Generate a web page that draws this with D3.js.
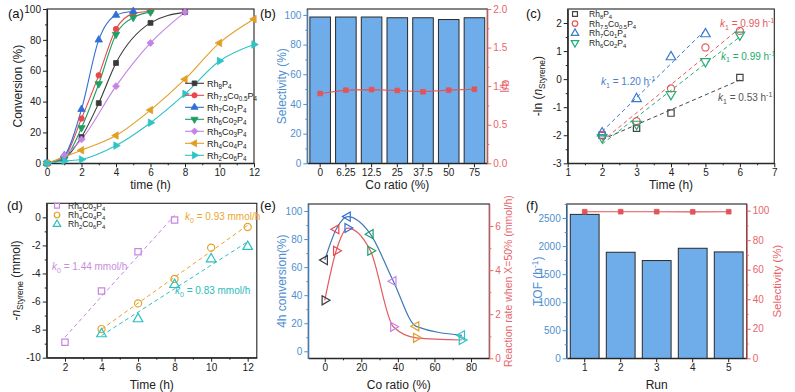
<!DOCTYPE html>
<html><head><meta charset="utf-8">
<script src="https://cdn.jsdelivr.net/npm/d3@7"></script>
<style>body{margin:0;background:#fff}svg{display:block}text{font-family:"Liberation Sans",Arial,sans-serif}</style>
</head><body><svg id="c" width="795" height="392"></svg>
<script>
// ---------- DATA ----------
// (a) conversion vs time
const legendA = ["Rh_{8}P_{4}","Rh_{7.5}Co_{0.5}P_{4}","Rh_{7}Co_{1}P_{4}","Rh_{6}Co_{2}P_{4}","Rh_{5}Co_{3}P_{4}","Rh_{4}Co_{4}P_{4}","Rh_{2}Co_{6}P_{4}"];
const convRh8P4   = [[0,0],[1,3],[2,17],[3,39],[4,65],[6,91],[8,98]];
const convRh75Co05 = [[0,0],[1,4],[2,29],[3,57],[4,87],[5,97],[6,98.5]];
const convRh7Co1  = [[0,0],[1,5],[2,35],[3,80],[4,96],[5,98.5]];
const convRh6Co2  = [[0,0],[1,3],[2,23],[3,51.5],[4,83.5],[5,94.5],[6,98]];
const convRh5Co3  = [[0,0],[1,5],[2,15.5],[4,50],[6,78],[8,98]];
const convRh4Co4  = [[0,0],[2,8.5],[4,18],[6,34.5],[8,54.5],[10,78],[12,93.5]];
const convRh2Co6  = [[0,0],[1,1.5],[2,2.5],[4,11.5],[6,26.3],[8,45],[10,66.3],[12,77]];
const xTicksA = [0,2,4,6,8,10,12];
const yTicksA = [0,20,40,60,80,100];
// (b) selectivity & l/b
const coRatioCats = ["0","6.25","12.5","25","37.5","50","75"];
const selectivityB = [98.6,98.6,98.6,98.1,98.1,96.9,98.1];
const lbRatio = [0.905,0.948,0.955,0.944,0.927,0.948,0.96];
const yTicksBL = [0,20,40,60,80,100];
const yTicksBR = [0,0.5,1,1.5,2];
// (c) -ln(n) vs time
const legendC = ["Rh_{8}P_{4}","Rh_{7.5}Co_{0.5}P_{4}","Rh_{7}Co_{1}P_{4}","Rh_{6}Co_{2}P_{4}"];
const lnRh8P4   = [[2,-2.0],[3,-1.75],[4,-1.21],[6,0.06]];
const lnRh75Co05 = [[2,-2.0],[3,-1.5],[4,-0.33],[5,1.13],[6,1.72]];
const lnRh7Co1  = [[2,-1.92],[3,-0.7],[4,0.79],[5,1.61]];
const lnRh6Co2  = [[2,-2.08],[3,-1.6],[4,-0.54],[5,0.63],[6,1.58]];
const kLabelsC = ["*k*_{1} = 0.53 h^{-1}","*k*_{1} = 0.99 h^{-1}","*k*_{1} = 1.20 h^{-1}","*k*_{1} = 0.99 h^{-1}"];
const xTicksC = [1,2,3,4,5,6,7];
const yTicksC = [-3,-2,-1,0,1,2];
// (d) -n vs time
const legendD = ["Rh_{5}Co_{3}P_{4}","Rh_{4}Co_{4}P_{4}","Rh_{2}Co_{6}P_{4}"];
const nRh5Co3 = [[2,-8.9],[4,-5.25],[6,-2.45],[8,-0.19]];
const nRh4Co4 = [[4,-7.96],[6,-6.13],[8,-4.39],[10,-2.16],[12,-0.69]];
const nRh2Co6 = [[4,-8.31],[6,-7.24],[8,-4.8],[10,-2.97],[12,-2.09]];
const kLabelsD = ["*k*_{0} = 1.44 mmol/h","*k*_{0} = 0.93 mmol/h","*k*_{0} = 0.83 mmol/h"];
const xTicksD = [2,4,6,8,10,12];
const yTicksD = [-10,-8,-6,-4,-2,0];
// (e) 4h conversion & rate vs Co ratio
const coRatioE = [0,6.25,12.5,25,37.5,50,75];
const conv4h = [65,87,96,83.5,50,17.8,11.4];
const rateX50 = [2.63,4.88,5.91,4.88,1.43,0.93,0.83];
const xTicksE = [0,20,40,60,80];
const yTicksEL = [0,20,40,60,80,100];
const yTicksER = [0,2,4,6];
// (f) recycling
const runs = ["1","2","3","4","5"];
const tofF = [2565,1890,1742,1961,1896];
const selF = [99.3,99.3,99.3,99.2,99.3];
const yTicksFL = [0,500,1000,1500,2000,2500];
const yTicksFR = [0,20,40,60,80,100];

// ---------- STYLE ----------
const FONT = '"Liberation Sans",Arial,sans-serif';
const BLUE_AX = "#4f8fd0", RED_AX = "#e8646c";
const COLS = {rh8:"#3a3a3a", r75:"#e8474c", r7:"#2f6fd6", r6:"#1f9e63", r5:"#c683e6", r4:"#e0a025", r2:"#2ec3c6"};
const svg = d3.select("#c");

function rich(sel, s, fs){
  const re=/_\{([^}]*)\}|\^\{([^}]*)\}|\*([^*]*)\*|([^_^*]+)/g; let m, cur=0;
  while((m=re.exec(s))){
    let t, shift=0, small=false, ital=false;
    if(m[1]!==undefined){t=m[1]; shift=0.25*fs; small=true;}
    else if(m[2]!==undefined){t=m[2]; shift=-0.36*fs; small=true;}
    else if(m[3]!==undefined){t=m[3]; ital=true;}
    else t=m[4];
    const ts=sel.append("tspan").text(t).attr("dy",(shift-cur).toFixed(2)); cur=shift;
    if(small) ts.attr("font-size",(fs*0.7).toFixed(1));
    if(ital) ts.attr("font-style","italic");
  }
  return sel;
}
function txt(x,y,s,fs,color,anchor,rot){
  const t=svg.append("text").attr("x",x).attr("y",y).attr("font-size",fs).attr("fill",color||"#222")
    .attr("text-anchor",anchor||"start").attr("font-family",FONT);
  if(rot) t.attr("transform",`rotate(${rot},${x},${y})`);
  rich(t,s,fs); return t;
}
function styleAx(g,color){
  g.attr("font-family",FONT).attr("font-size",10);
  g.select(".domain").attr("stroke",color).attr("stroke-width",1.1);
  g.selectAll(".tick line").attr("stroke",color);
  g.selectAll(".tick text").attr("fill",color);
}
function axisY(scale,xpos,side,ticks,minor,fmt,color){
  const A = side==="left"?d3.axisLeft:d3.axisRight;
  if(minor){
    const gm=svg.append("g").attr("transform",`translate(${xpos},0)`).call(A(scale).tickValues(minor).tickSize(2).tickSizeOuter(0).tickFormat(""));
    gm.select(".domain").remove(); gm.selectAll("line").attr("stroke",color);
  }
  const g=svg.append("g").attr("transform",`translate(${xpos},0)`)
    .call(A(scale).tickValues(ticks).tickSize(4).tickSizeOuter(0).tickPadding(2).tickFormat(fmt||(d=>String(d))));
  styleAx(g,color);
}
function axisX(scale,ypos,ticks,minor,fmt,color){
  if(minor){
    const gm=svg.append("g").attr("transform",`translate(0,${ypos})`).call(d3.axisBottom(scale).tickValues(minor).tickSize(2).tickSizeOuter(0).tickFormat(""));
    gm.select(".domain").remove(); gm.selectAll("line").attr("stroke",color);
  }
  const A=d3.axisBottom(scale).tickSize(4).tickSizeOuter(0).tickPadding(2);
  if(ticks) A.tickValues(ticks);
  A.tickFormat(fmt||(d=>String(d)));
  const g=svg.append("g").attr("transform",`translate(0,${ypos})`).call(A);
  styleAx(g,color);
}
function frame(p){
  svg.append("rect").attr("x",p.l).attr("y",p.t).attr("width",p.r-p.l).attr("height",p.b-p.t)
    .attr("fill","none").attr("stroke","#222").attr("stroke-width",1.1);
}
const SYM={square:[d3.symbolSquare,0],circle:[d3.symbolCircle,0],triUp:[d3.symbolTriangle,0],triDown:[d3.symbolTriangle,180],
  triLeft:[d3.symbolTriangle,-90],triRight:[d3.symbolTriangle,90],diamond:[d3.symbolSquare,45]};
function marker(g,shape,x,y,size,color,filled){
  const [t,r]=SYM[shape];
  g.append("path").attr("d",d3.symbol().type(t).size(size)())
    .attr("transform",`translate(${x},${y}) rotate(${r})`)
    .attr("fill",filled?color:"none").attr("stroke",color).attr("stroke-width",filled?0.8:1.2);
}
function fit(pts){
  const mx=d3.mean(pts,d=>d[0]), my=d3.mean(pts,d=>d[1]);
  const sxy=d3.sum(pts,d=>(d[0]-mx)*(d[1]-my)), sxx=d3.sum(pts,d=>(d[0]-mx)**2);
  const k=sxy/sxx; return [k,my-k*mx];
}
function minorRange(a,b,step){const r=[];for(let v=a;v<=b+1e-9;v+=step)r.push(+v.toFixed(4));return r;}

// ---------- PANEL GEOMETRY ----------
const P={a:{l:47,r:254,t:9,b:163.3},b:{l:307.3,r:487.3,t:9,b:163.3},c:{l:567.7,r:774.3,t:9,b:163.3},
  d:{l:46.7,r:256.8,t:203.3,b:357.7},e:{l:308.3,r:489.3,t:204,b:358.3},f:{l:566.7,r:746.7,t:204,b:358.3}};
const XT1=189, XT2=388.5;

// ===== (a) =====
{
  const p=P.a, x=d3.scaleLinear().domain([0,12]).range([p.l,p.r]), y=d3.scaleLinear().domain([0,100]).range([p.b,p.t]);
  frame(p);
  axisX(x,p.b,xTicksA,minorRange(1,11,2),null,"#222");
  axisY(y,p.l,"left",yTicksA,minorRange(10,90,20),null,"#222");
  const series=[[convRh8P4,COLS.rh8,"square"],[convRh75Co05,COLS.r75,"circle"],[convRh7Co1,COLS.r7,"triUp"],
    [convRh6Co2,COLS.r6,"triDown"],[convRh5Co3,COLS.r5,"diamond"],[convRh4Co4,COLS.r4,"triLeft"],[convRh2Co6,COLS.r2,"triRight"]];
  const line=d3.line().x(d=>x(d[0])).y(d=>y(d[1])).curve(d3.curveMonotoneX);
  const g=svg.append("g");
  series.forEach(([pts,c])=>g.append("path").attr("d",line(pts)).attr("fill","none").attr("stroke",c).attr("stroke-width",1.1));
  series.forEach(([pts,c,s])=>pts.forEach(d=>marker(g,s,x(d[0]),y(d[1]),24,c,true)));
  series.forEach(([pts,c,s],i)=>{
    const yy=83.3+i*12;
    g.append("line").attr("x1",185).attr("x2",204).attr("y1",yy).attr("y2",yy).attr("stroke",c).attr("stroke-width",1.1);
    marker(g,s,194.5,yy,22,c,true);
    txt(207,yy+3.2,legendA[i],9,"#222");
  });
  txt(8,18,"(a)",13,"#111");
  txt(22,(p.t+p.b)/2,"Conversion (%)",12,"#222","middle",-90);
  txt((p.l+p.r)/2,XT1,"time (h)",12,"#222","middle");
}
// ===== (b) =====
{
  const p=P.b, x=d3.scaleBand().domain(coRatioCats).range([p.l,p.r]).paddingInner(0.2).paddingOuter(0.1);
  const yl=d3.scaleLinear().domain([0,104]).range([p.b,p.t]), yr=d3.scaleLinear().domain([0,2]).range([p.b,p.t]);
  frame(p);
  const g=svg.append("g");
  g.selectAll("rect.bar").data(selectivityB).join("rect").attr("x",(d,i)=>x(coRatioCats[i])).attr("width",x.bandwidth())
    .attr("y",d=>yl(d)).attr("height",d=>p.b-yl(d)).attr("fill","#6fadea").attr("stroke","#2a2a2a").attr("stroke-width",1);
  const cx=i=>x(coRatioCats[i])+x.bandwidth()/2;
  g.append("path").attr("d",d3.line().x((d,i)=>cx(i)).y(d=>yr(d))(lbRatio)).attr("fill","none").attr("stroke","#e2545a").attr("stroke-width",1.1);
  lbRatio.forEach((d,i)=>marker(g,"square",cx(i),yr(d),22,"#e2545a",true));
  axisX(x,p.b,null,null,null,"#222");
  axisY(yl,p.l,"left",yTicksBL,minorRange(10,90,20),null,BLUE_AX);
  axisY(yr,p.r,"right",yTicksBR,minorRange(0.25,1.75,0.5),d3.format(".1f"),RED_AX);
  txt(260,18,"(b)",13,"#111");
  txt(286,(p.t+p.b)/2,"Selectivity (%)",12,BLUE_AX,"middle",-90);
  txt(509,(p.t+p.b)/2,"l/b",12,RED_AX,"middle",-90);
  txt((p.l+p.r)/2,XT1,"Co ratio (%)",12,"#222","middle");
}
// ===== (c) =====
{
  const p=P.c, x=d3.scaleLinear().domain([1,7]).range([p.l,p.r]), y=d3.scaleLinear().domain([-3,2.5]).range([p.b,p.t]);
  frame(p);
  axisX(x,p.b,xTicksC,minorRange(1.5,6.5,1),null,"#222");
  axisY(y,p.l,"left",yTicksC,minorRange(-2.5,1.5,1),null,"#222");
  const cols=["#444","#e45a5e","#3a7bd0","#21ad78"], shapes=["square","circle","triUp","triDown"];
  const series=[lnRh8P4,lnRh75Co05,lnRh7Co1,lnRh6Co2];
  const g=svg.append("g");
  series.forEach((pts,i)=>{
    const [k,b]=fit(pts), x0=pts[0][0], x1=pts[pts.length-1][0];
    g.append("line").attr("x1",x(x0)).attr("x2",x(x1)).attr("y1",y(k*x0+b)).attr("y2",y(k*x1+b))
      .attr("stroke",cols[i]).attr("stroke-width",1).attr("stroke-dasharray","4,3");
  });
  series.forEach((pts,i)=>pts.forEach(d=>marker(g,shapes[i],x(d[0]),y(d[1]),40,cols[i],false)));
  legendC.forEach((s,i)=>{const yy=14+i*9.6; marker(g,shapes[i],575,yy,24,cols[i],false); txt(589,yy+3,s,8.5,"#222");});
  const kcol=["#555","#e45a5e","#4a7fc8","#22aa70"], kpos=[[718,101],[720,27],[601,85],[721,59.5]];
  kLabelsC.forEach((s,i)=>txt(kpos[i][0],kpos[i][1],s,10,kcol[i]));
  txt(526,18,"(c)",13,"#111");
  txt(542,(p.t+p.b)/2,"-ln (*n*_{Styrene})",12,"#222","middle",-90);
  txt((p.l+p.r)/2,XT1,"Time (h)",12,"#222","middle");
}
// ===== (d) =====
{
  const p=P.d, x=d3.scaleLinear().domain([1,12.5]).range([p.l,p.r]), y=d3.scaleLinear().domain([-10,1]).range([p.b,p.t]);
  frame(p);
  axisX(x,p.b,xTicksD,minorRange(3,11,2),null,"#222");
  axisY(y,p.l,"left",yTicksD,minorRange(-9,-1,2),null,"#222");
  const cols=["#c685e2","#e3a42a","#2dbfc0"], shapes=["square","circle","triUp"];
  const series=[nRh5Co3,nRh4Co4,nRh2Co6];
  const g=svg.append("g");
  series.forEach((pts,i)=>{
    const [k,b]=fit(pts), x0=pts[0][0], x1=pts[pts.length-1][0];
    g.append("line").attr("x1",x(x0)).attr("x2",x(x1)).attr("y1",y(k*x0+b)).attr("y2",y(k*x1+b))
      .attr("stroke",cols[i]).attr("stroke-width",1).attr("stroke-dasharray","4,3");
  });
  series.forEach((pts,i)=>pts.forEach(d=>marker(g,shapes[i],x(d[0]),y(d[1]),40,cols[i],false)));
  legendD.forEach((s,i)=>{const yy=205.7+i*9.3; marker(g,shapes[i],57,yy,24,cols[i],false); txt(68,yy+3,s,8.5,"#222");});
  const kcol=["#c98de0","#e8a830","#2bbcbc"], kpos=[[52,270],[185,220],[175,294]];
  kLabelsD.forEach((s,i)=>txt(kpos[i][0],kpos[i][1],s,10,kcol[i]));
  txt(7,210,"(d)",13,"#111");
  txt(20,(p.t+p.b)/2,"-*n*_{Styrene} (mmol)",12,"#222","middle",-90);
  txt((p.l+p.r)/2,XT2,"Time (h)",12,"#222","middle");
}
// ===== (e) =====
{
  const p=P.e, x=d3.scaleLinear().domain([-9,90]).range([p.l,p.r]);
  const yl=d3.scaleLinear().domain([-5,105]).range([p.b,p.t]), yr=d3.scaleLinear().domain([0,7]).range([p.b,p.t]);
  frame(p);
  const g=svg.append("g");
  const cols=[COLS.rh8,COLS.r75,COLS.r7,COLS.r6,COLS.r5,COLS.r4,COLS.r2];
  const lineL=d3.line().x((d,i)=>x(coRatioE[i])).y(d=>yl(d)).curve(d3.curveMonotoneX);
  const lineR=d3.line().x((d,i)=>x(coRatioE[i])).y(d=>yr(d)).curve(d3.curveMonotoneX);
  g.append("path").attr("d",lineL(conv4h)).attr("fill","none").attr("stroke","#3f78b8").attr("stroke-width",1.2);
  g.append("path").attr("d",lineR(rateX50)).attr("fill","none").attr("stroke","#e45a60").attr("stroke-width",1.2);
  conv4h.forEach((d,i)=>marker(g,"triLeft",x(coRatioE[i]),yl(d),36,cols[i],false));
  rateX50.forEach((d,i)=>marker(g,"triRight",x(coRatioE[i]),yr(d),36,cols[i],false));
  axisX(x,p.b,xTicksE,minorRange(10,70,20),null,"#222");
  axisY(yl,p.l,"left",yTicksEL,minorRange(10,90,20),null,BLUE_AX);
  axisY(yr,p.r,"right",yTicksER,[1,3,5],null,RED_AX);
  txt(260,210,"(e)",13,"#111");
  txt(286,(p.t+p.b)/2,"4h conversion(%)",12,BLUE_AX,"middle",-90);
  txt(512,(p.t+p.b)/2,"Reaction rate when X=50% (mmol/h)",10.5,RED_AX,"middle",-90);
  txt((p.l+p.r)/2,XT2,"Co ratio (%)",12,"#222","middle");
}
// ===== (f) =====
{
  const p=P.f, x=d3.scaleBand().domain(runs).range([p.l,p.r]).paddingInner(0.2).paddingOuter(0.1);
  const yl=d3.scaleLinear().domain([0,2750]).range([p.b,p.t]), yr=d3.scaleLinear().domain([0,104.5]).range([p.b,p.t]);
  frame(p);
  const g=svg.append("g");
  g.selectAll("rect.bar").data(tofF).join("rect").attr("x",(d,i)=>x(runs[i])).attr("width",x.bandwidth())
    .attr("y",d=>yl(d)).attr("height",d=>p.b-yl(d)).attr("fill","#6fadea").attr("stroke","#2a2a2a").attr("stroke-width",1);
  const cx=i=>x(runs[i])+x.bandwidth()/2;
  g.append("path").attr("d",d3.line().x((d,i)=>cx(i)).y(d=>yr(d))(selF)).attr("fill","none").attr("stroke","#e2545a").attr("stroke-width",1.1);
  selF.forEach((d,i)=>marker(g,"square",cx(i),yr(d),22,"#e2545a",true));
  axisX(x,p.b,null,null,null,"#222");
  axisY(yl,p.l,"left",yTicksFL,minorRange(250,2750,500),null,BLUE_AX);
  axisY(yr,p.r,"right",yTicksFR,minorRange(10,90,20),null,RED_AX);
  txt(526,210,"(f)",13,"#111");
  txt(542,(p.t+p.b)/2,"TOF (h^{-1})",12,BLUE_AX,"middle",-90);
  txt(781,(p.t+p.b)/2,"Selectivity (%)",11.5,RED_AX,"middle",-90);
  txt((p.l+p.r)/2,XT2,"Run",12,"#222","middle");
}
</script></body></html>
